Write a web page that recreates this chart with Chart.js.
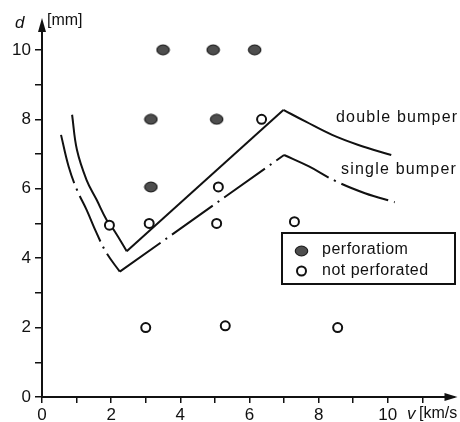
<!DOCTYPE html>
<html>
<head>
<meta charset="utf-8">
<script src="https://cdn.jsdelivr.net/npm/chart.js@4.4.1/dist/chart.umd.min.js"></script>
<style>
  html, body { margin: 0; padding: 0; background: #fff; }
  #wrap { width: 460px; height: 422px; }
</style>
</head>
<body>
<div id="wrap"><canvas id="bumperChart" width="460" height="422"></canvas></div>
<script>
// Hole diameter d [mm] vs impact velocity v [km/s]
const perforatedV = [3.5, 4.95, 6.15, 3.15, 5.05, 3.15];
const perforatedD = [10, 10, 10, 8, 8, 6.05];
const intactV = [1.95, 3.1, 5.05, 5.1, 6.35, 7.3, 3.0, 5.3, 8.55];
const intactD = [4.95, 5.0, 5.0, 6.05, 8.0, 5.05, 2.0, 2.05, 2.0];

// double bumper limit (solid), min at index 6, peak at index 7
const doubleV = [0.87, 1.01, 1.29, 1.58, 1.87, 2.11, 2.45, 6.98, 7.63, 8.39, 9.15, 10.1];
const doubleD = [8.13, 7.12, 6.25, 5.68, 5.1, 4.76, 4.2, 8.27, 7.93, 7.55, 7.26, 6.97];
// single bumper limit (dash-dot)
const singleV = [0.55, 0.77, 1.01, 1.29, 1.58, 1.87, 2.25, 7.0, 7.72, 8.49, 9.34, 10.2];
const singleD = [7.55, 6.64, 5.97, 5.39, 4.72, 4.14, 3.61, 6.97, 6.64, 6.22, 5.87, 5.61];

const curveNames = ['double bumper', 'single bumper'];
const legendNames = ['perforatiom', 'not perforated'];

Chart.defaults.font.family = "'Liberation Sans', Arial, sans-serif";
Chart.defaults.color = '#111';

function toPoints(xs, ys) {
    return xs.map((x, i) => ({ x: x, y: ys[i] }));
}

// split a curve at its corners so the curved parts can be smoothed
function curveParts(xs, ys, minIdx, peakIdx, dash) {
    const pts = toPoints(xs, ys);
    const parts = [pts.slice(0, minIdx + 1), pts.slice(minIdx, peakIdx + 1), pts.slice(peakIdx)];
    return parts.map((p, i) => ({
        type: 'line',
        data: p,
        borderColor: '#111',
        borderWidth: 2,
        borderDash: dash,
        tension: i === 1 ? 0 : 0.4,
        pointRadius: 0,
        fill: false,
        order: 5
    }));
}

function ellipseMarker() {
    const c = document.createElement('canvas');
    c.width = 15; c.height = 12;
    const g = c.getContext('2d');
    g.beginPath();
    g.ellipse(7.5, 6, 6.2, 4.8, 0, 0, Math.PI * 2);
    g.fillStyle = '#4e4e4e';
    g.fill();
    g.lineWidth = 1.2;
    g.strokeStyle = '#1e1e1e';
    g.stroke();
    return c;
}
const filledMark = ellipseMarker();

const decor = {
    id: 'decor',
    afterDraw(chart) {
        const ctx = chart.ctx;
        const a = chart.chartArea;
        ctx.save();
        ctx.fillStyle = '#111';
        // axis arrows
        ctx.beginPath();
        ctx.moveTo(a.left, a.top - 11);
        ctx.lineTo(a.left - 4, a.top + 3);
        ctx.lineTo(a.left + 4, a.top + 3);
        ctx.closePath();
        ctx.fill();
        ctx.beginPath();
        ctx.moveTo(a.right + 4, a.bottom);
        ctx.lineTo(a.right - 9, a.bottom - 4);
        ctx.lineTo(a.right - 9, a.bottom + 4);
        ctx.closePath();
        ctx.fill();

        // axis titles
        ctx.textBaseline = 'middle';
        ctx.textAlign = 'left';
        ctx.font = "italic 17px 'Liberation Sans', Arial";
        ctx.fillText('d', 15, 23);
        ctx.fillText('v', 407, 414);
        ctx.font = "16px 'Liberation Sans', Arial";
        ctx.fillText('[mm]', 47, 21);
        ctx.fillText('[km/s', 419, 414);

        // curve labels
        ctx.font = "16px 'Liberation Sans', Arial";
        ctx.letterSpacing = '1.2px';
        ctx.fillText(curveNames[0], 336, 118);
        ctx.fillText(curveNames[1], 341, 170);

        // legend
        ctx.lineWidth = 2;
        ctx.strokeStyle = '#111';
        ctx.strokeRect(282, 233, 173, 51);
        ctx.drawImage(filledMark, 294, 245);
        ctx.beginPath();
        ctx.arc(301.5, 271, 4.5, 0, Math.PI * 2);
        ctx.fillStyle = '#fff';
        ctx.fill();
        ctx.stroke();
        ctx.fillStyle = '#111';
        ctx.letterSpacing = '0.5px';
        ctx.fillText(legendNames[0], 322, 250);
        ctx.fillText(legendNames[1], 322, 271);
        ctx.restore();
    }
};

const tickFont = { size: 17 };

new Chart(document.getElementById('bumperChart'), {
    type: 'scatter',
    data: {
        datasets: [
            {
                label: legendNames[0],
                data: toPoints(perforatedV, perforatedD),
                pointStyle: filledMark,
                order: 0
            },
            {
                label: legendNames[1],
                data: toPoints(intactV, intactD),
                pointStyle: 'circle',
                pointRadius: 4.5,
                pointBorderWidth: 2,
                pointBorderColor: '#111',
                pointBackgroundColor: '#fff',
                order: 1
            },
            ...curveParts(doubleV, doubleD, 6, 7, []),
            ...curveParts(singleV, singleD, 6, 7, [50, 6, 2, 6])
        ]
    },
    options: {
        responsive: false,
        animation: false,
        devicePixelRatio: 1,
        layout: { padding: { top: 29, right: 2, left: 0, bottom: 0 } },
        plugins: { legend: { display: false }, tooltip: { enabled: false } },
        scales: {
            x: {
                type: 'linear',
                min: 0,
                max: 11.9,
                ticks: {
                    stepSize: 1, includeBounds: false, autoSkip: false, maxRotation: 0,
                    padding: 2, font: tickFont,
                    callback: v => (v % 2 === 0 ? v : '')
                },
                grid: { drawOnChartArea: false, tickLength: 6, color: '#111', lineWidth: 1.5 },
                border: { color: '#111', width: 2 },
                afterFit: s => { s.height = 25; }
            },
            y: {
                type: 'linear',
                min: 0,
                max: 10.6,
                ticks: {
                    stepSize: 1, includeBounds: false, autoSkip: false,
                    padding: 4, font: tickFont,
                    callback: v => (v % 2 === 0 ? v : '')
                },
                grid: { drawOnChartArea: false, tickLength: 7, color: '#111', lineWidth: 1.5 },
                border: { color: '#111', width: 2 },
                afterFit: s => { s.width = 42; }
            }
        }
    },
    plugins: [decor]
});
</script>
</body>
</html>
